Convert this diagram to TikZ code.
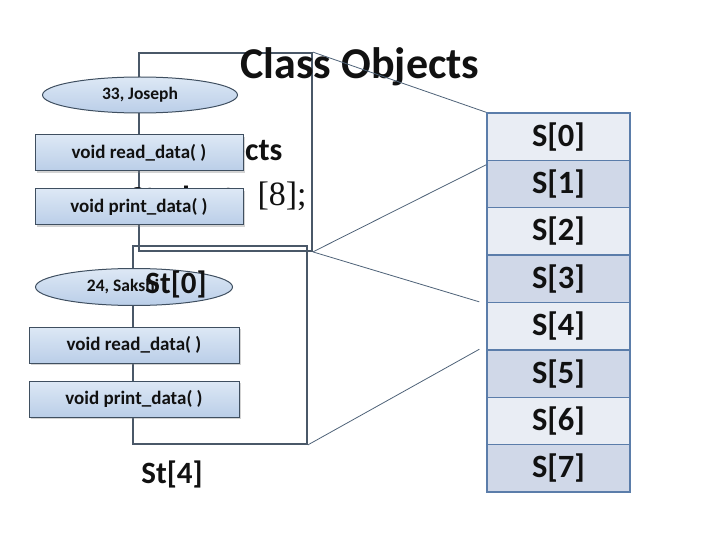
\documentclass[tikz,border=0pt]{standalone}
\usepackage{fontspec}
\setmainfont{Carlito}
\newfontfamily\codefont{Liberation Serif}
\usetikzlibrary{shapes.geometric,shadows}
\definecolor{ink}{HTML}{111111}
\definecolor{frameLine}{HTML}{4A5868}
\definecolor{linkLine}{HTML}{4E6278}
\definecolor{memberTop}{HTML}{DDE8F5}
\definecolor{memberBottom}{HTML}{BACEE8}
\definecolor{memberEdge}{HTML}{3F4F60}
\definecolor{cellEdge}{HTML}{5B7DAA}
\definecolor{cellLight}{HTML}{E9EDF4}
\definecolor{cellDark}{HTML}{D0D8E8}
\tikzset{
    objframe/.style={draw=frameLine, line width=1.8pt, fill=none},
    datafield/.style={ellipse, draw=memberEdge, line width=1pt,
                      top color=memberTop, bottom color=memberBottom,
                      minimum width=195pt, minimum height=36pt, inner sep=0pt,
                      font=\fontsize{17.5}{17.5}\selectfont\bfseries, text=ink},
    method/.style={rectangle, draw=memberEdge, line width=1pt,
                   top color=memberTop, bottom color=memberBottom,
                   drop shadow={shadow xshift=2pt, shadow yshift=-2pt, opacity=0.35},
                   minimum width=208pt, minimum height=36pt, inner sep=0pt,
                   font=\fontsize{19}{19}\selectfont\bfseries, text=ink},
    cell/.style={rectangle, draw=cellEdge, line width=1.3pt,
                 minimum width=143pt, minimum height=47.4pt, inner sep=0pt,
                 font=\fontsize{32.5}{32.5}\selectfont\bfseries, text=ink},
    link/.style={linkLine, line width=0.8pt},
    big label/.style={font=\fontsize{31}{31}\selectfont\bfseries, text=ink},
}

\begin{document}
\begin{tikzpicture}[x=1pt, y=-1pt]
\useasboundingbox (0,0) rectangle (720,540);

% ---------------------------------------------------------------------------
% Object frames (drawn first, they sit behind the members)
% ---------------------------------------------------------------------------
\node[objframe, minimum width=173pt, minimum height=198pt, inner sep=0pt]
    (objA) at (225.5,152) {};
\node[objframe, minimum width=174pt, minimum height=198pt, inner sep=0pt]
    (objB) at (220,345) {};

% text partly covered by the members
\node[big label, font=\fontsize{32}{32}\selectfont\bfseries, anchor=base east]
    (hidA) at (286,161) {Array of Objects};
\node[anchor=base west, font=\fontsize{32}{32}\selectfont\bfseries, text=ink]
    (hidB) at (126,209) {Student};
\node[anchor=base west, font=\fontsize{34}{34}\selectfont\codefont, text=ink]
    (hidC) at (254,206) {[8];};

% ---------------------------------------------------------------------------
% First object
% ---------------------------------------------------------------------------
\node[datafield] (ageA) at (140,95) {33, Joseph};
\node[method] (readA) at (139,153) {void read\_data( )};
\node[method] (printA) at (139,207) {void print\_data( )};

% ---------------------------------------------------------------------------
% Second object
% ---------------------------------------------------------------------------
\node[datafield, minimum width=197pt, minimum height=37pt] (ageB) at (134,287)
    {\hspace*{-22pt}24, Sakshi};
\node[big label] (stZero) at (176,284) {St[0]};
\node[method, minimum width=210pt] (readB) at (134,345) {void read\_data( )};
\node[method, minimum width=210pt] (printB) at (134,399) {void print\_data( )};
\node[big label] (stFour) at (172,474) {St[4]};

% ---------------------------------------------------------------------------
% Array of eight objects
% ---------------------------------------------------------------------------
\foreach \i in {0,...,7} {
    \pgfmathsetmacro{\cy}{136.7+47.375*\i}
    \ifodd\i
        \node[cell, fill=cellDark] (s\i) at (558.5,\cy) {S[\i]};
    \else
        \node[cell, fill=cellLight] (s\i) at (558.5,\cy) {S[\i]};
    \fi
}

% title
\node[font=\fontsize{44}{44}\selectfont\bfseries, text=ink] (title) at (360,67)
    {Class Objects};

% links from the objects to their array slots
\draw[link] (objA.north east) -- (s0.north west);
\draw[link] (objA.south east) -- ([yshift=-5pt]s1.north west);
\draw[link] (objA.south east) -- ([xshift=-7pt]s4.north west);
\draw[link] (objB.south east) -- ([xshift=-7pt]s5.north west);

\end{tikzpicture}
\end{document}
